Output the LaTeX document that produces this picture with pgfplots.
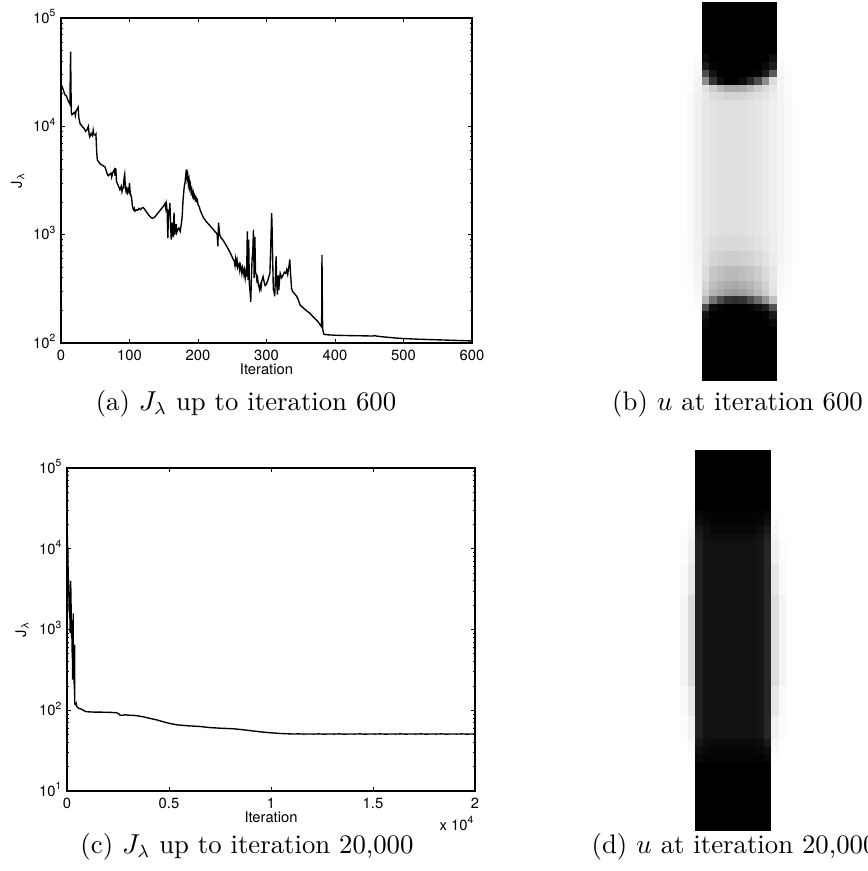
\documentclass[border=0pt]{standalone}
\usepackage{fontspec}
\setsansfont{TeX Gyre Heros}
\usepackage{pgfplots}
\usepackage{pgfplotstable}
\pgfplotsset{compat=1.18}

\newcommand\axfont{\fontsize{5.9}{7}\selectfont\sffamily}
\newcommand\capfont{\fontsize{10.7}{13}\selectfont}

% J_lambda over the first 600 iterations
\pgfplotstableread{
it J
0 24500
2 23000
4 21000
6 19500
8 19000
10 17500
12 16500
13 16000
14 49000
15 13500
16 12800
18 13200
20 13500
21 12600
22 14000
24 14500
25 15000
26 12000
28 10500
30 10200
32 9800
34 9500
36 9000
38 9300
40 10000
41 8500
42 8000
44 8600
46 8200
47 9200
48 8400
50 8300
51 8500
52 6000
53 4900
55 4700
57 4500
60 4400
62 4300
64 4250
66 3900
67 3700
69 3500
71 3600
73 3700
74 3400
76 3800
78 4000
79 3500
80 4100
81 3100
83 2900
85 2700
86 2600
88 2800
89 2500
90 2650
91 2700
92 3300
93 3600
94 2700
95 2500
96 2650
97 2450
98 2600
99 2500
100 3000
101 2450
102 2300
103 2200
104 1900
105 1750
106 1700
107 1750
108 1650
110 1700
112 1680
114 1750
116 1700
118 1760
120 1780
122 1720
124 1650
126 1580
128 1520
130 1470
132 1430
134 1420
136 1440
138 1480
140 1540
142 1600
144 1650
146 1720
148 1780
150 1850
151 1900
152 1950
153 1750
154 1900
155 1600
156 930
157 1700
158 1500
159 1950
160 1200
161 900
162 1300
163 1100
164 950
165 1600
166 1000
167 1100
168 1250
169 1050
170 1100
172 1150
174 1070
176 1300
177 1500
178 2000
179 2400
180 2800
181 3000
182 3500
183 4000
184 3300
185 3600
186 2900
187 3200
188 2700
189 2900
190 2450
191 2600
192 2300
193 2450
194 2200
195 2300
196 2100
197 2200
198 2050
199 2100
200 1900
202 1800
203 1700
205 1580
207 1480
208 1430
210 1380
212 1320
214 1280
216 1240
218 1200
220 1160
222 1120
224 1080
226 1050
227 1035
228 1000
229 780
230 1290
231 1100
232 980
234 930
236 900
238 860
240 820
242 780
244 740
246 700
248 660
250 620
251.5 590
253 570
254 520
255 600
256 540
257 580
258 500
259 525
260 540
261 470
262 520
263 490
264 440
265 500
266 475
267 430
268 470
269 400
270 450
271 410
272 1070
273 380
274 900
275 350
276 300
277 240
278 400
279 600
280 700
281 1110
282 400
283 950
284 450
285 430
286 380
287 400
288 350
289 330
290 310
291 340
292 320
293 370
294 390
295 410
296 380
297 360
298 340
300 350
302 380
304 420
305 440
306 700
307 1200
307.5 1580
308 1300
309 600
310 310
311 300
312 270
313 400
314 630
315 350
316 280
317 420
318 310
319 380
320 440
322 400
324 420
326 450
328 440
329.5 475
331 430
332 480
333 520
334 590
335 450
336.6 320
338 300
340 290
342 280
344 270
346 255
349 225
352 215
356 205
360 195
363.5 188
366 180
370 170
373 163
376 155
379 145
380.5 141
381 650
381.5 250
382 135
383 125
384 120
390 119
400 118
410 117.5
422 117
440 116.5
455 116
458 117
460 116
470 114
480 112.5
490 111
500 110
520 108.5
540 107.5
560 106.5
580 105.5
600 104.5
}\early

% J_lambda from iteration 600 to 20,000
\pgfplotstableread{
it J
600 104.5
637 105
700 103
800 100
900 97
965 96
1100 95.5
1300 95
1600 94.8
1900 94.5
2200 94
2436 93
2550 90
2598 87
2700 86.5
2850 88
3000 87
3250 86.5
3500 85
3740 83
4000 80
4200 78
4400 76
4600 73.5
4800 71
5000 69
5380 66
5700 65
6000 64
6520 63
7000 61
7500 60
8150 59
8600 57.5
8970 56
9500 54
9950 52.7
10500 51.5
11100 50.8
11350 51.0
11600 50.7
11850 50.9
12100 50.7
12350 51.0
12600 50.6
12850 50.9
13100 50.7
13350 51.0
13600 50.6
13850 50.9
14100 50.7
14350 51.0
14600 50.6
14850 50.9
15100 50.7
15350 51.0
15600 50.6
15850 50.9
16100 50.7
16350 51.0
16600 50.6
16850 50.9
17100 50.7
17350 51.0
17600 50.6
17850 50.9
18100 50.7
18350 51.0
18600 50.6
18850 50.9
19100 50.7
19350 51.0
19600 50.6
19850 50.9
20000 50.8
}\tail

\pgfplotsset{
  mlab/.style={
    scale only axis, anchor=south west, clip mode=individual,
    tick align=inside, tick pos=both,
    major tick length=1.6pt, minor tick length=0.9pt,
    every tick/.style={black, line width=0.35pt},
    axis line style={line width=0.6pt},
    scaled x ticks=false,
    xticklabel style={font=\axfont, inner sep=0pt, yshift=-2.6pt},
    yticklabel style={font=\axfont, inner sep=0pt, anchor=base east, xshift=-1.6pt, yshift=-2.1pt},
    xlabel style={font=\axfont, at={(axis description cs:0.5,0)}, anchor=north, inner sep=0pt, yshift=-8pt},
    ylabel style={font=\axfont, anchor=center, inner sep=0pt},
    xlabel={Iteration}, ylabel={J\textsubscript{λ}},
  },
  ufield/.style={
    scale only axis, anchor=south west, hide axis,
    xmin=-3, xmax=13, ymin=0, ymax=50, y dir=reverse,
    colormap={bw}{gray(0cm)=(0); gray(1cm)=(1)},
    point meta min=0, point meta max=1,
  },
}

\begin{document}
\begin{tikzpicture}
\useasboundingbox (0,0) rectangle (347.2pt,-348.4pt);

% (a)
\begin{axis}[mlab, ymode=log, at={(24.4pt,-137.2pt)}, width=164.4pt, height=130pt,
  xmin=0, xmax=600, ymin=100, ymax=100000,
  xtick={0,100,200,300,400,500,600},
  ytick={100,1000,10000,100000},
  yticklabels={10\textsuperscript{2},10\textsuperscript{3},10\textsuperscript{4},10\textsuperscript{5}},
  ylabel style={at={(axis description cs:-0.105,0.5)}},
  /pgf/number format/assume math mode=true]
\addplot[black, line width=0.55pt] table[x=it, y=J] {\early};
\end{axis}

% (c)
\begin{axis}[mlab, ymode=log, at={(26.8pt,-316.4pt)}, width=163.2pt, height=129.2pt,
  xmin=0, xmax=20000, ymin=10, ymax=100000,
  xtick={0,5000,10000,15000,20000},
  xticklabels={0,0.5,1,1.5,2},
  ytick={10,100,1000,10000,100000},
  yticklabels={10\textsuperscript{1},10\textsuperscript{2},10\textsuperscript{3},10\textsuperscript{4},10\textsuperscript{5}},
  ylabel style={at={(axis description cs:-0.11,0.5)}}]
\addplot[black, line width=0.55pt] table[x=it, y=J] {\early};
\addplot[black, line width=0.55pt] table[x=it, y=J] {\tail};
\node[font=\axfont, anchor=base east, inner sep=0pt, yshift=-15.6pt] at (rel axis cs:1,0) {x 10\textsuperscript{4}};
\end{axis}

% (b) u at iteration 600
\begin{axis}[ufield, at={(271.8pt,-152pt)}, width=48pt, height=151.2pt]
\addplot[surf, shader=flat corner, mesh/cols=17, point meta=explicit] coordinates {
(-3,0)[1] (-2,0)[1] (-1,0)[1] (0,0)[0] (1,0)[0] (2,0)[0] (3,0)[0] (4,0)[0] (5,0)[0] (6,0)[0] (7,0)[0] (8,0)[0] (9,0)[0] (10,0)[1] (11,0)[1] (12,0)[1] (13,0)[1]
(-3,6)[1] (-2,6)[1] (-1,6)[0.99] (0,6)[0] (1,6)[0] (2,6)[0] (3,6)[0] (4,6)[0] (5,6)[0] (6,6)[0] (7,6)[0] (8,6)[0] (9,6)[0] (10,6)[0.99] (11,6)[1] (12,6)[1] (13,6)[1]
(-3,7)[1] (-2,7)[0.995] (-1,7)[0.98] (0,7)[0.04] (1,7)[0] (2,7)[0] (3,7)[0] (4,7)[0] (5,7)[0] (6,7)[0] (7,7)[0] (8,7)[0] (9,7)[0.06] (10,7)[0.98] (11,7)[0.995] (12,7)[1] (13,7)[1]
(-3,8)[1] (-2,8)[0.99] (-1,8)[0.97] (0,8)[0.1] (1,8)[0.02] (2,8)[0] (3,8)[0] (4,8)[0] (5,8)[0] (6,8)[0] (7,8)[0] (8,8)[0.04] (9,8)[0.12] (10,8)[0.97] (11,8)[0.99] (12,8)[1] (13,8)[1]
(-3,9)[1] (-2,9)[0.985] (-1,9)[0.96] (0,9)[0.3] (1,9)[0.08] (2,9)[0] (3,9)[0] (4,9)[0] (5,9)[0] (6,9)[0] (7,9)[0.02] (8,9)[0.1] (9,9)[0.35] (10,9)[0.96] (11,9)[0.985] (12,9)[1] (13,9)[1]
(-3,10)[0.995] (-2,10)[0.98] (-1,10)[0.95] (0,10)[0.55] (1,10)[0.2] (2,10)[0.05] (3,10)[0] (4,10)[0] (5,10)[0.05] (6,10)[0.15] (7,10)[0.3] (8,10)[0.55] (9,10)[0.85] (10,10)[0.95] (11,10)[0.98] (12,10)[0.995] (13,10)[1]
(-3,11)[0.995] (-2,11)[0.98] (-1,11)[0.95] (0,11)[0.88] (1,11)[0.8] (2,11)[0.72] (3,11)[0.67] (4,11)[0.66] (5,11)[0.68] (6,11)[0.73] (7,11)[0.8] (8,11)[0.85] (9,11)[0.9] (10,11)[0.95] (11,11)[0.98] (12,11)[0.995] (13,11)[1]
(-3,12)[0.995] (-2,12)[0.975] (-1,12)[0.94] (0,12)[0.9] (1,12)[0.86] (2,12)[0.84] (3,12)[0.82] (4,12)[0.82] (5,12)[0.83] (6,12)[0.85] (7,12)[0.87] (8,12)[0.89] (9,12)[0.92] (10,12)[0.95] (11,12)[0.975] (12,12)[0.995] (13,12)[1]
(-3,13)[0.99] (-2,13)[0.97] (-1,13)[0.935] (0,13)[0.9] (1,13)[0.88] (2,13)[0.87] (3,13)[0.87] (4,13)[0.87] (5,13)[0.87] (6,13)[0.88] (7,13)[0.89] (8,13)[0.91] (9,13)[0.93] (10,13)[0.95] (11,13)[0.97] (12,13)[0.99] (13,13)[1]
(-3,31)[0.99] (-2,31)[0.972] (-1,31)[0.938] (0,31)[0.89] (1,31)[0.86] (2,31)[0.85] (3,31)[0.845] (4,31)[0.845] (5,31)[0.85] (6,31)[0.86] (7,31)[0.875] (8,31)[0.9] (9,31)[0.925] (10,31)[0.95] (11,31)[0.972] (12,31)[0.99] (13,31)[1]
(-3,33)[0.99] (-2,33)[0.975] (-1,33)[0.94] (0,33)[0.88] (1,33)[0.83] (2,33)[0.81] (3,33)[0.8] (4,33)[0.8] (5,33)[0.81] (6,33)[0.82] (7,33)[0.85] (8,33)[0.88] (9,33)[0.92] (10,33)[0.95] (11,33)[0.975] (12,33)[0.99] (13,33)[1]
(-3,35)[0.995] (-2,35)[0.98] (-1,35)[0.95] (0,35)[0.86] (1,35)[0.78] (2,35)[0.75] (3,35)[0.73] (4,35)[0.72] (5,35)[0.74] (6,35)[0.76] (7,35)[0.8] (8,35)[0.85] (9,35)[0.9] (10,35)[0.96] (11,35)[0.98] (12,35)[0.995] (13,35)[1]
(-3,37)[0.995] (-2,37)[0.982] (-1,37)[0.955] (0,37)[0.83] (1,37)[0.74] (2,37)[0.7] (3,37)[0.67] (4,37)[0.66] (5,37)[0.68] (6,37)[0.71] (7,37)[0.76] (8,37)[0.82] (9,37)[0.89] (10,37)[0.965] (11,37)[0.982] (12,37)[0.995] (13,37)[1]
(-3,38)[1] (-2,38)[0.985] (-1,38)[0.96] (0,38)[0.8] (1,38)[0.7] (2,38)[0.66] (3,38)[0.62] (4,38)[0.6] (5,38)[0.62] (6,38)[0.66] (7,38)[0.72] (8,38)[0.8] (9,38)[0.88] (10,38)[0.97] (11,38)[0.985] (12,38)[1] (13,38)[1]
(-3,39)[1] (-2,39)[0.99] (-1,39)[0.97] (0,39)[0.7] (1,39)[0.45] (2,39)[0.3] (3,39)[0.2] (4,39)[0.18] (5,39)[0.2] (6,39)[0.3] (7,39)[0.42] (8,39)[0.58] (9,39)[0.75] (10,39)[0.975] (11,39)[0.99] (12,39)[1] (13,39)[1]
(-3,40)[1] (-2,40)[0.995] (-1,40)[0.98] (0,40)[0.3] (1,40)[0.06] (2,40)[0.02] (3,40)[0] (4,40)[0] (5,40)[0] (6,40)[0.02] (7,40)[0.06] (8,40)[0.12] (9,40)[0.32] (10,40)[0.98] (11,40)[0.995] (12,40)[1] (13,40)[1]
(-3,41)[1] (-2,41)[1] (-1,41)[0.99] (0,41)[0.08] (1,41)[0] (2,41)[0] (3,41)[0] (4,41)[0] (5,41)[0] (6,41)[0] (7,41)[0] (8,41)[0.02] (9,41)[0.1] (10,41)[0.99] (11,41)[1] (12,41)[1] (13,41)[1]
(-3,42)[1] (-2,42)[1] (-1,42)[0.995] (0,42)[0.03] (1,42)[0] (2,42)[0] (3,42)[0] (4,42)[0] (5,42)[0] (6,42)[0] (7,42)[0] (8,42)[0] (9,42)[0.04] (10,42)[0.995] (11,42)[1] (12,42)[1] (13,42)[1]
(-3,43)[1] (-2,43)[1] (-1,43)[1] (0,43)[0] (1,43)[0] (2,43)[0] (3,43)[0] (4,43)[0] (5,43)[0] (6,43)[0] (7,43)[0] (8,43)[0] (9,43)[0] (10,43)[1] (11,43)[1] (12,43)[1] (13,43)[1]
(-3,50)[1] (-2,50)[1] (-1,50)[1] (0,50)[0] (1,50)[0] (2,50)[0] (3,50)[0] (4,50)[0] (5,50)[0] (6,50)[0] (7,50)[0] (8,50)[0] (9,50)[0] (10,50)[1] (11,50)[1] (12,50)[1] (13,50)[1]
};
\end{axis}

% (d) u at iteration 20,000
\begin{axis}[ufield, at={(269.16pt,-332.28pt)}, width=48.64pt, height=152pt]
\addplot[surf, shader=flat corner, mesh/cols=17, point meta=explicit] coordinates {
(-3,0)[1] (-2,0)[1] (-1,0)[1] (0,0)[0] (1,0)[0] (2,0)[0] (3,0)[0] (4,0)[0] (5,0)[0] (6,0)[0] (7,0)[0] (8,0)[0] (9,0)[0] (10,0)[1] (11,0)[1] (12,0)[1] (13,0)[1]
(-3,8)[1] (-2,8)[1] (-1,8)[0.99] (0,8)[0.03] (1,8)[0.01] (2,8)[0.01] (3,8)[0.01] (4,8)[0.01] (5,8)[0.01] (6,8)[0.01] (7,8)[0.01] (8,8)[0.01] (9,8)[0.03] (10,8)[0.99] (11,8)[1] (12,8)[1] (13,8)[1]
(-3,9)[1] (-2,9)[0.995] (-1,9)[0.975] (0,9)[0.06] (1,9)[0.03] (2,9)[0.02] (3,9)[0.02] (4,9)[0.02] (5,9)[0.02] (6,9)[0.02] (7,9)[0.02] (8,9)[0.03] (9,9)[0.06] (10,9)[0.975] (11,9)[0.995] (12,9)[1] (13,9)[1]
(-3,10)[1] (-2,10)[0.99] (-1,10)[0.96] (0,10)[0.09] (1,10)[0.05] (2,10)[0.03] (3,10)[0.03] (4,10)[0.03] (5,10)[0.03] (6,10)[0.03] (7,10)[0.03] (8,10)[0.05] (9,10)[0.1] (10,10)[0.96] (11,10)[0.99] (12,10)[1] (13,10)[1]
(-3,11)[1] (-2,11)[0.985] (-1,11)[0.95] (0,11)[0.11] (1,11)[0.06] (2,11)[0.05] (3,11)[0.05] (4,11)[0.05] (5,11)[0.05] (6,11)[0.05] (7,11)[0.05] (8,11)[0.07] (9,11)[0.13] (10,11)[0.95] (11,11)[0.985] (12,11)[1] (13,11)[1]
(-3,12)[1] (-2,12)[0.98] (-1,12)[0.93] (0,12)[0.12] (1,12)[0.065] (2,12)[0.065] (3,12)[0.065] (4,12)[0.065] (5,12)[0.065] (6,12)[0.065] (7,12)[0.065] (8,12)[0.08] (9,12)[0.15] (10,12)[0.93] (11,12)[0.98] (12,12)[1] (13,12)[1]
(-3,15)[1] (-2,15)[0.97] (-1,15)[0.9] (0,15)[0.12] (1,15)[0.065] (2,15)[0.065] (3,15)[0.065] (4,15)[0.065] (5,15)[0.065] (6,15)[0.065] (7,15)[0.065] (8,15)[0.08] (9,15)[0.15] (10,15)[0.9] (11,15)[0.97] (12,15)[1] (13,15)[1]
(-3,19)[0.995] (-2,19)[0.95] (-1,19)[0.85] (0,19)[0.12] (1,19)[0.065] (2,19)[0.065] (3,19)[0.065] (4,19)[0.065] (5,19)[0.065] (6,19)[0.065] (7,19)[0.065] (8,19)[0.08] (9,19)[0.15] (10,19)[0.86] (11,19)[0.95] (12,19)[0.995] (13,19)[1]
(-3,31)[1] (-2,31)[0.97] (-1,31)[0.9] (0,31)[0.12] (1,31)[0.065] (2,31)[0.065] (3,31)[0.065] (4,31)[0.065] (5,31)[0.065] (6,31)[0.065] (7,31)[0.065] (8,31)[0.08] (9,31)[0.15] (10,31)[0.9] (11,31)[0.97] (12,31)[1] (13,31)[1]
(-3,35)[1] (-2,35)[0.98] (-1,35)[0.94] (0,35)[0.12] (1,35)[0.065] (2,35)[0.065] (3,35)[0.065] (4,35)[0.065] (5,35)[0.065] (6,35)[0.065] (7,35)[0.065] (8,35)[0.08] (9,35)[0.15] (10,35)[0.94] (11,35)[0.98] (12,35)[1] (13,35)[1]
(-3,38)[1] (-2,38)[0.99] (-1,38)[0.96] (0,38)[0.08] (1,38)[0.05] (2,38)[0.04] (3,38)[0.04] (4,38)[0.04] (5,38)[0.04] (6,38)[0.04] (7,38)[0.04] (8,38)[0.05] (9,38)[0.1] (10,38)[0.96] (11,38)[0.99] (12,38)[1] (13,38)[1]
(-3,39)[1] (-2,39)[0.995] (-1,39)[0.975] (0,39)[0.05] (1,39)[0.03] (2,39)[0.02] (3,39)[0.02] (4,39)[0.02] (5,39)[0.02] (6,39)[0.02] (7,39)[0.02] (8,39)[0.03] (9,39)[0.05] (10,39)[0.975] (11,39)[0.995] (12,39)[1] (13,39)[1]
(-3,40)[1] (-2,40)[1] (-1,40)[0.985] (0,40)[0.03] (1,40)[0.01] (2,40)[0.01] (3,40)[0.01] (4,40)[0.01] (5,40)[0.01] (6,40)[0.01] (7,40)[0.01] (8,40)[0.01] (9,40)[0.03] (10,40)[0.985] (11,40)[1] (12,40)[1] (13,40)[1]
(-3,41)[1] (-2,41)[1] (-1,41)[0.99] (0,41)[0] (1,41)[0] (2,41)[0] (3,41)[0] (4,41)[0] (5,41)[0] (6,41)[0] (7,41)[0] (8,41)[0] (9,41)[0] (10,41)[0.99] (11,41)[1] (12,41)[1] (13,41)[1]
(-3,42)[1] (-2,42)[1] (-1,42)[1] (0,42)[0] (1,42)[0] (2,42)[0] (3,42)[0] (4,42)[0] (5,42)[0] (6,42)[0] (7,42)[0] (8,42)[0] (9,42)[0] (10,42)[1] (11,42)[1] (12,42)[1] (13,42)[1]
(-3,50)[1] (-2,50)[1] (-1,50)[1] (0,50)[0] (1,50)[0] (2,50)[0] (3,50)[0] (4,50)[0] (5,50)[0] (6,50)[0] (7,50)[0] (8,50)[0] (9,50)[0] (10,50)[1] (11,50)[1] (12,50)[1] (13,50)[1]
};
\end{axis}

% captions
\node[font=\capfont, anchor=base, inner sep=0pt] at (98.4pt,-164pt) {(a) $J_\lambda$ up to iteration 600};
\node[font=\capfont, anchor=base, inner sep=0pt] at (295pt,-164pt) {(b) $u$ at iteration 600};
\node[font=\capfont, anchor=base, inner sep=0pt] at (98.8pt,-341.2pt) {(c) $J_\lambda$ up to iteration 20,000};
\node[font=\capfont, anchor=base, inner sep=0pt] at (293.6pt,-341.2pt) {(d) $u$ at iteration 20,000};
\end{tikzpicture}
\end{document}
